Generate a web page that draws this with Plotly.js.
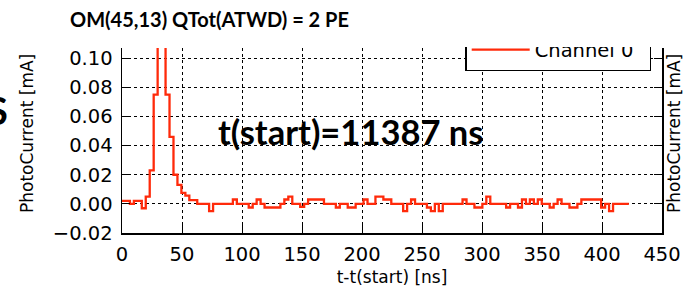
<!DOCTYPE html>
<html>
<head>
<meta charset="utf-8">
<script src="https://cdn.plot.ly/plotly-3.0.1.min.js"></script>
<style>html,body{margin:0;padding:0;background:#fff;}#chart{width:685px;height:287px;}</style>
</head>
<body>
<div id="chart"></div>
<script>
// Sample start times [ns] (ATWD bins, 3.3 ns each; last entry closes the final bin)
const timeNs = [0,3.3,6.6,9.9,13.2,16.5,19.8,23.1,26.4,29.7,33,36.3,39.6,42.9,46.2,49.5,52.8,56.1,59.4,62.7,
66,69.3,72.6,75.9,79.2,82.5,85.8,89.1,92.4,95.7,99,102.3,105.6,108.9,112.2,115.5,118.8,122.1,125.4,128.7,
132,135.3,138.6,141.9,145.2,148.5,151.8,155.1,158.4,161.7,165,168.3,171.6,174.9,178.2,181.5,184.8,188.1,191.4,194.7,
198,201.3,204.6,207.9,211.2,214.5,217.8,221.1,224.4,227.7,231,234.3,237.6,240.9,244.2,247.5,250.8,254.1,257.4,260.7,
264,267.3,270.6,273.9,277.2,280.5,283.8,287.1,290.4,293.7,297,300.3,303.6,306.9,310.2,313.5,316.8,320.1,323.4,326.7,
330,333.3,336.6,339.9,343.2,346.5,349.8,353.1,356.4,359.7,363,366.3,369.6,372.9,376.2,379.5,382.8,386.1,389.4,392.7,
396,399.3,402.6,405.9,409.2,412.5,415.8,419.1,422.4];

// Photocurrent per sample [mA], Channel 0
const channel0 = [0.002,0.002,0,0.002,0.002,-0.003,0.005,0.023,0.075,0.135,
0.125,0.075,0.046,0.020,0.013,0.0075,0.0057,0.0025,0.0025,0,
0,0,-0.005,0,0,0,0,0,0.003,0,
0,0,-0.0025,0,0.003,0,-0.0025,-0.0025,-0.0025,-0.0025,
0,0.003,0.005,0,0,-0.002,0,0.003,0.003,0.003,
0.003,0,0,0,-0.0025,0,0,-0.0025,-0.0025,0,
0,0.003,0,0,0.005,0.005,0.003,0.003,0,0,
0,-0.005,0,0.003,0,0,0,-0.0025,-0.005,0,
-0.005,0,0,0,0,0,0.003,0,0,-0.0025,
-0.0025,0,0.005,0,0,0,0,-0.0025,0,0,
-0.0025,0.003,0,0.003,0,0.003,0,0,-0.0025,0,
0.003,0,0,-0.0025,-0.0025,0,0.003,0.003,0.003,0.003,
0.003,-0.0025,0,-0.005,0,0,0,0];

const xTicks = [0,50,100,150,200,250,300,350,400,450];
const yTicks = [-0.02,0,0.02,0.04,0.06,0.08,0.10];
const seriesName = 'Channel 0';
const titleText = 'OM(45,13) QTot(ATWD) = 2 PE';
const startText = 't(start)=11387 ns';
const xTitle = 't-t(start) [ns]';
const yTitle = 'PhotoCurrent [mA]';

const yStep = channel0.concat([channel0[channel0.length - 1]]);

const tickFont = {family: 'DejaVu Sans', size: 19.5, color: '#000'};
const boldFont = 'Lato, "Open Sans", sans-serif';

const trace = {
  x: timeNs, y: yStep, type: 'scatter', mode: 'lines', name: seriesName,
  line: {shape: 'hv', color: '#ff2a0a', width: 2.3}
};

const axisCommon = {
  showline: true, linecolor: '#000', linewidth: 1.5,
  ticks: 'inside', ticklen: 8, tickwidth: 1, tickcolor: '#000',
  showgrid: true, gridcolor: '#000', gridwidth: 1, griddash: 'dot',
  zeroline: false, tickfont: tickFont
};

const layout = {
  width: 685, height: 287,
  margin: {l: 122, r: 23, t: 48, b: 54},
  paper_bgcolor: '#fff', plot_bgcolor: '#fff',
  xaxis: Object.assign({}, axisCommon, {range: [0, 450], tickvals: xTicks, mirror: false,
          ticklabelstandoff: 3,
          title: {text: xTitle, font: {family: 'DejaVu Sans', size: 17, color: '#000'}, standoff: 7}}),
  yaxis: Object.assign({}, axisCommon, {range: [-0.02, 0.107], tickvals: yTicks, tickformat: '.2f',
          mirror: 'ticks', ticklabelstandoff: 4}),
  showlegend: true,
  legend: {x: 0.98, xanchor: 'right', y: (233-71)/185, yanchor: 'bottom', orientation: 'h',
           bgcolor: '#fff', bordercolor: '#000', borderwidth: 1.5, itemwidth: 58,
           font: {family: 'DejaVu Sans', size: 19.5, color: '#000'}, entrywidth: 110},
  annotations: [
    {text: ' ', xref: 'paper', yref: 'paper', x: (440-122)/540, y: 1 + 1/185,
     xanchor: 'left', yanchor: 'bottom', showarrow: false, width: 245, height: 47,
     bgcolor: '#fff', borderpad: 0, borderwidth: 0},
    {text: '<b>' + titleText + '</b>', xref: 'paper', yref: 'paper', x: (209-122)/540, y: (233-19)/185,
     xanchor: 'center', yanchor: 'middle', showarrow: false,
     font: {family: boldFont, size: 20, color: '#000'}},
    {text: '<b>' + startText + '</b>', xref: 'paper', yref: 'paper', x: (350-122)/540, y: (233-131)/185,
     xanchor: 'center', yanchor: 'middle', showarrow: false,
     font: {family: boldFont, size: 34.5, color: '#000'}},
    {text: yTitle, xref: 'paper', yref: 'paper', x: (27-122)/540, y: (233-134)/185,
     xanchor: 'center', yanchor: 'middle', showarrow: false, textangle: -90,
     font: {family: 'DejaVu Sans', size: 17, color: '#000'}},
    {text: yTitle, xref: 'paper', yref: 'paper', x: (674-122)/540, y: (233-134)/185,
     xanchor: 'center', yanchor: 'middle', showarrow: false, textangle: -90,
     font: {family: 'DejaVu Sans', size: 17, color: '#000'}},
    {text: '<b>S</b>', xref: 'paper', yref: 'paper', x: (10-122)/540, y: (233-110)/185,
     xanchor: 'right', yanchor: 'middle', showarrow: false,
     font: {family: boldFont, size: 38, color: '#000'}}
  ]
};

Plotly.newPlot('chart', [trace], layout, {displayModeBar: false, staticPlot: true});
</script>
</body>
</html>
